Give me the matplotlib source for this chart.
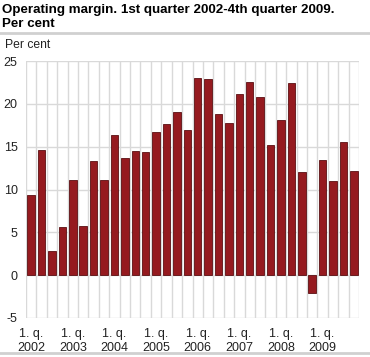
import matplotlib.pyplot as plt
import numpy as np

plt.rcParams['font.family'] = ['Liberation Sans', 'DejaVu Sans']

quarters = [f"{q}. q.\n{y}" for y in range(2002, 2010) for q in range(1, 5)]
margin = [9.4, 14.6, 2.8, 5.6, 11.1, 5.7, 13.3, 11.1,
          16.4, 13.7, 14.5, 14.4, 16.7, 17.6, 19.1, 17.0,
          23.0, 22.9, 18.8, 17.8, 21.1, 22.5, 20.8, 15.2,
          18.1, 22.4, 12.1, -2.1, 13.4, 11.0, 15.5, 12.2]
yticks = [-5, 0, 5, 10, 15, 20, 25]

fig = plt.figure(figsize=(3.7, 3.57), dpi=100)
ax = fig.add_axes([26/370, 1 - 318/357, 333/370, 257/357])

x = np.arange(len(margin))
ax.bar(x, margin, width=0.72, color='#951a1f', edgecolor='#5a0f12', linewidth=0.6, zorder=3)

ax.set_xlim(-0.5, len(margin) - 0.5)
ax.set_ylim(-5, 25)
ax.set_yticks(yticks)
ax.set_yticklabels([str(v) for v in yticks])
ax.set_xticks(x[::4])
ax.set_xticklabels([quarters[i] for i in range(0, len(margin), 4)], linespacing=1.25)

for b in np.arange(-0.5, len(margin) + 0.5, 1):
    ax.axvline(b, color='#d9d9d9', linewidth=1, zorder=1)
for v in yticks:
    ax.axhline(v, color='#d9d9d9', linewidth=1, zorder=1)

for s in ax.spines.values():
    s.set_visible(False)
ax.tick_params(length=0, labelsize=9, colors='#222222')
ax.tick_params(axis='x', pad=7)
ax.tick_params(axis='y', pad=6)

fig.text(5/370, 1 - 47.5/357, 'Per cent', fontsize=8.7, color='#222222', va='baseline')
fig.text(2/370, 1 - 12.5/357, 'Operating margin. 1st quarter 2002-4th quarter 2009.',
         fontsize=9.6, fontweight='bold', va='baseline')
fig.text(2/370, 1 - 27/357, 'Per cent', fontsize=9.6, fontweight='bold', va='baseline')

fig.add_artist(plt.Line2D([0, 1], [1 - 33/357, 1 - 33/357], color='#d0d0d0', linewidth=2))
fig.add_artist(plt.Line2D([0, 1], [1 - 353/357, 1 - 353/357], color='#d0d0d0', linewidth=2))

fig.savefig('out.png', dpi=100)
